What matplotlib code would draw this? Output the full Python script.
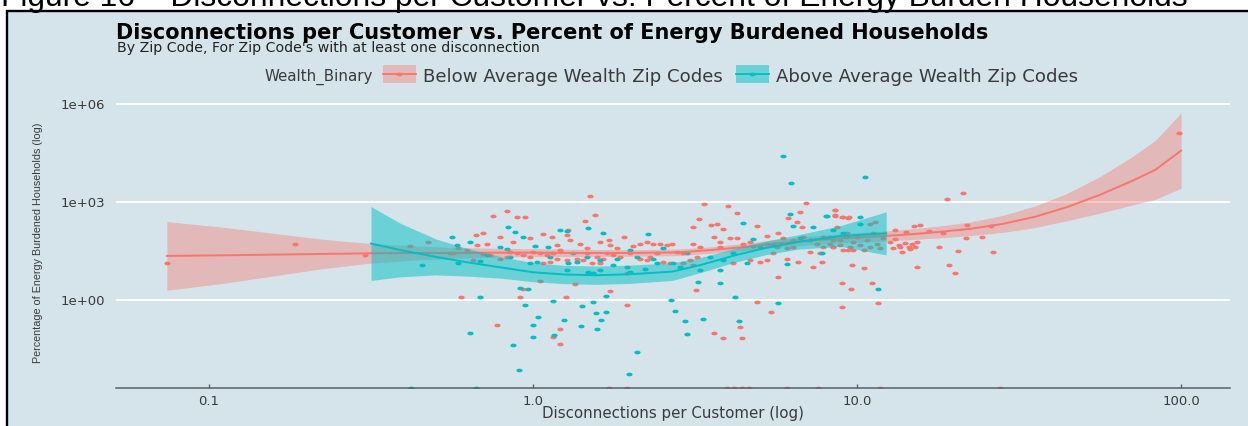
import numpy as np
import matplotlib
matplotlib.use("Agg")
import matplotlib.pyplot as plt
from matplotlib.path import Path
from matplotlib.transforms import Affine2D
from matplotlib.patches import Rectangle
from matplotlib.lines import Line2D
from matplotlib.ticker import NullLocator

W, H, DPI = 1248, 426, 100
BG = "#d5e4eb"
RED = "#F8766D"
CYAN = "#00BFC4"
TXT = "#3a3a3a"

# ---------------- texts ----------------
caption = "Figure 16 \u2013 Disconnections per Customer vs. Percent of Energy Burden Households"
title = "Disconnections per Customer vs. Percent of Energy Burdened Households"
subtitle = "By Zip Code, For Zip Code's with at least one disconnection"
legend_title = "Wealth_Binary"
groups = ["Below Average Wealth Zip Codes", "Above Average Wealth Zip Codes"]
x_label = "Disconnections per Customer (log)"
y_label = "Percentage of Energy Burdened Households (log)"
x_ticks = [0.1, 1.0, 10.0, 100.0]
x_tick_labels = ["0.1", "1.0", "10.0", "100.0"]
y_ticks = [1.0, 1e3, 1e6]
y_tick_labels = ["1e+00", "1e+03", "1e+06"]

# ---------------- data (log10 of values) ----------------
below_log10_x = [
    -1.129, -0.735, -0.519, -0.380, -0.323, -0.256,
    -0.122, -0.079, -0.048, -0.025, 0.176, 0.191, 0.160, -0.176, -0.153, -0.143,
    -0.172, -0.223, -0.110, -0.040, -0.032, 0.083, 0.083, 0.063, 0.101, 0.238,
    0.289, 0.129, 0.528, 0.601, 0.512, 0.495, 0.550, 0.567, 0.587, 0.629,
    0.690, 0.721, 0.757, 0.786, 0.814, 0.824, 0.843, 0.829, 0.932, 0.932,
    0.958, 0.976, 0.757, 0.690, 0.735, 0.639, 0.644, 0.587, 0.560, 0.503,
    0.819, 0.865, 0.891, 0.953, 0.953,
    -0.102, -0.061, -0.009, 0.032, 0.058, 0.073, 0.104, 0.109, 0.114, 0.145,
    0.166, 0.207, 0.233, 0.238, 0.258, 0.281, 0.310, 0.330, 0.351, 0.371,
    0.392, 0.413, 0.428, 0.443, 0.464, 0.022, 0.042, 0.063, 0.083, 0.001,
    -0.030, -0.050, -0.071, -0.081, -0.102, -0.133, -0.153, -0.184, -0.205, -0.230,
    -0.246, 0.196, 0.217, 0.248, 0.269, 0.299, 0.330, 0.361, 0.382, 0.135,
    0.155, 0.181, 0.207, 0.032, 0.052, 0.351, 0.402, 0.423, 0.104, 0.166,
    0.227, 0.073, -0.009, 0.557, 0.577, 0.608, 0.629, 0.649, 0.670, 0.721,
    0.752, 0.783, 0.803, 0.855, 0.886, 0.927, 0.948, 0.973, 0.721, 0.783,
    0.495, 0.515, 0.577, 0.464, 0.485, 0.495, 0.505, 0.618, 0.670, 0.701,
    0.742, 0.773, 0.803, 0.834, 0.876, 0.896, 0.927, 0.968, 0.022, 0.289,
    0.932, 0.932, 0.953, 0.973, 0.984, 1.020, 0.980, 1.047, 1.066, 1.277,
    1.326, 1.117, 1.151, 1.176, 1.194, 1.223, 1.264, 1.338, 1.413, 1.385,
    1.335, 1.254, 1.313, 1.421, 1.186, 1.285, 1.301, 1.995,
    1.102, 1.117, 1.128, 1.138, 1.148, 1.159, 1.169, 1.179, 1.184, 1.133,
    1.112, 1.164,
    0.896, 0.917, 0.937, 0.948, 0.968, 0.979, 0.989, 0.999, 1.009, 1.020,
    1.030, 1.040, 1.050, 1.061, 1.071, 1.081, 0.927, 0.958, 0.989, 1.040,
    1.056,
]
below_log10_y = [
    1.12, 1.70, 1.38, 1.65, 1.78, 1.43,
    2.57, 2.73, 2.55, 2.53, 3.18, 2.60, 2.43, 1.99, 2.04, 1.73,
    1.68, 0.10, -0.76, 0.10, 0.33, -0.90, -1.35, -1.12, 0.08, 0.27,
    -0.15, 0.49, 2.94, 2.87, 2.48, 2.24, 2.29, 2.34, 2.16, 2.65,
    2.28, 1.97, 2.04, 2.50, 2.40, 2.70, 2.96, 2.24, 2.75, 2.58,
    2.53, 2.53, 0.71, -0.07, -0.36, -0.82, -1.17, -1.17, -1.02, 0.31,
    1.17, 1.02, 1.17, 0.53, -0.22,
    1.94, 1.78, 1.89, 2.02, 1.94, 1.68, 1.99, 2.14, 1.83, 1.73,
    1.58, 1.78, 1.83, 1.68, 1.58, 1.94, 1.65, 1.70, 1.78, 1.73,
    1.71, 1.68, 1.71, 1.48, 1.43, 1.43, 1.38, 1.45, 1.53, 1.48,
    1.38, 1.43, 1.48, 1.33, 1.27, 1.38, 1.41, 1.22, 1.53, 1.58,
    1.43, 1.33, 1.27, 1.38, 1.33, 1.43, 1.27, 1.33, 1.43, 1.27,
    1.22, 1.12, 1.12, 1.12, 1.17, 1.22, 1.17, 1.12, 1.22, 1.43,
    1.45, 1.27, 1.33, 1.94, 1.78, 1.89, 1.89, 1.73, 1.78, 1.73,
    1.63, 1.58, 1.63, 1.48, 1.43, 1.63, 1.68, 1.53, 1.22, 1.27,
    1.73, 1.63, 1.63, 1.12, 1.22, 1.07, 1.33, 1.12, 1.22, 1.17,
    1.43, 1.89, 1.83, 1.94, 1.73, 1.63, 1.83, 1.94, 0.59, 0.84,
    2.77, 2.60, 2.53, 2.50, 1.07, 0.97, 0.33, 0.53, -0.08, 3.10,
    3.29, 2.14, 2.09, 2.26, 2.31, 2.12, 2.06, 2.29, 2.26, 1.94,
    1.89, 1.63, 1.50, 1.47, 1.02, 1.07, 0.83, 5.12,
    1.78, 1.86, 1.68, 1.48, 1.75, 1.63, 1.71, 1.63, 1.78, 1.63,
    1.58, 1.55,
    1.94, 1.73, 2.24, 1.83, 2.04, 1.63, 1.78, 1.94, 1.68, 1.53,
    1.83, 1.63, 2.04, 1.73, 1.58, 1.89, 1.63, 1.53, 1.53, 2.34,
    2.40,
]
# zip codes with 0 % (drawn at the lower panel edge, like ggplot's -Inf)
below_zero_log10_x = [0.233, 0.289, 0.598, 0.620, 0.645, 0.667, 0.783, 0.880, 1.071, 1.441]

above_log10_x = [
    0.771, 0.795, -0.251, -0.194, -0.234, -0.076, -0.056, -0.030, 0.006, 0.047,
    0.083, 0.104, 0.171, 0.217, 0.356, -0.343, -0.164, -0.230, -0.009, 0.011,
    0.104, 0.109, 0.135, 0.171, 0.186, 0.207, 0.248, 0.289, 0.299, 0.346,
    0.371, 0.402, 0.433, 0.474, 0.515, 0.510, 0.577, 0.623, 0.649, 0.680,
    0.757, 0.793, 0.803, 0.783, 0.865, 0.906, 0.680, 0.824, -0.164, -0.194,
    -0.061, -0.042, -0.025, -0.040, -0.014, -0.001, -0.001, 0.016, 0.061, 0.065,
    0.096, 0.147, 0.150, 0.186, 0.194, 0.196, 0.210, 0.225, 0.224, 0.297,
    0.320, 0.425, 0.438, 0.469, 0.474, 0.524, 0.637,
    -0.102, -0.081, -0.071, -0.143, 0.299, 0.320, 0.166, 0.124, 0.052, 0.207,
    0.258, 0.382, 0.454, 0.546, 0.587, 0.618, 0.701, 0.742, 0.855, 0.917,
    0.958, 0.577, 0.659,
    1.025, 0.904, 1.009, 0.891, 1.066, 0.927, 1.009,
]
above_log10_y = [
    4.40, 3.59, 1.92, 1.78, 1.68, 2.22, 2.09, 1.94, 1.65, 1.61,
    2.14, 2.12, 2.19, 2.06, 2.02, 1.07, 1.20, 1.14, 1.12, 1.17,
    0.92, 1.12, 1.17, 0.87, 0.84, 0.92, 1.07, 1.02, 0.87, 0.94,
    1.27, 1.58, 1.12, 1.45, 0.92, 0.54, 0.53, 0.10, 2.36, 1.86,
    -0.10, 2.63, 2.26, 1.10, 2.24, 2.57, 1.65, 1.89, 0.08, -1.02,
    -1.36, -2.14, -0.15, 0.36, 0.33, -0.76, -1.12, -0.51, -0.02, -1.07,
    -0.61, -0.80, -0.18, -0.05, -0.39, -0.89, -0.61, -0.36, 0.12, -2.26,
    -1.58, 0.00, -0.33, -0.64, -1.05, -0.57, -0.63,
    1.63, 1.55, 1.33, 1.38, 1.53, 1.33, 1.33, 1.43, 1.33, 1.22,
    1.27, 1.12, 1.02, 1.33, 1.22, 1.43, 1.63, 1.73, 1.83, 1.94,
    2.04, 0.92, 1.12,
    3.77, 2.57, 2.53, 1.45, 0.33, 2.14, 2.34,
]
above_zero_log10_x = [-0.376, -0.177]

# loess fits (log10 x, log10 fitted y, log10 half-width of the confidence band)
below_fit_log10_x = [-1.13, -0.95, -0.80, -0.65, -0.50, -0.35, -0.25, -0.10, 0.00, 0.15,
                     0.30, 0.45, 0.55, 0.65, 0.75, 0.85, 0.95, 1.05, 1.15, 1.25,
                     1.35, 1.45, 1.55, 1.65, 1.75, 1.85, 1.92, 2.00]
below_fit_log10_y = [1.35, 1.37, 1.39, 1.41, 1.43, 1.44, 1.44, 1.45, 1.45, 1.44,
                     1.44, 1.46, 1.53, 1.62, 1.73, 1.82, 1.89, 1.94, 2.00, 2.08,
                     2.18, 2.33, 2.55, 2.85, 3.22, 3.65, 3.98, 4.57]
below_fit_se = [1.05, 0.85, 0.65, 0.45, 0.30, 0.21, 0.17, 0.13, 0.12, 0.11,
                0.10, 0.10, 0.10, 0.11, 0.12, 0.13, 0.14, 0.15, 0.16, 0.18,
                0.21, 0.26, 0.33, 0.42, 0.56, 0.74, 0.90, 1.15]

above_fit_log10_x = [-0.50, -0.41, -0.30, -0.20, -0.10, 0.00, 0.10, 0.20, 0.30, 0.43,
                     0.52, 0.62, 0.72, 0.82, 0.95, 1.09]
above_fit_log10_y = [1.73, 1.53, 1.32, 1.15, 1.00, 0.85, 0.78, 0.76, 0.79, 0.87,
                     1.08, 1.36, 1.60, 1.78, 1.96, 2.04]
above_fit_se = [1.13, 0.82, 0.55, 0.42, 0.33, 0.29, 0.28, 0.28, 0.28, 0.27,
                0.23, 0.21, 0.21, 0.22, 0.32, 0.66]

# ---------------- figure ----------------
plt.rcParams["font.family"] = ["DejaVu Sans"]
fig = plt.figure(figsize=(W / DPI, H / DPI), dpi=DPI, facecolor="white")
renderer = fig.canvas.get_renderer()

# image frame with the ggplot background
fig.add_artist(Rectangle((7 / W, -0.1), 1.2, 1.1 - 11 / H, transform=fig.transFigure,
                         facecolor=BG, edgecolor="black", lw=1.7, zorder=0))

ax = fig.add_axes([116 / W, 1 - 388 / H, 1114 / W, 289 / H])
ax.set_facecolor("none")
ax.set_xscale("log")
ax.set_yscale("log")
ax.set_xlim(10 ** -1.287, 10 ** 2.151)
ax.set_ylim(10 ** -2.69, 10 ** 6.15)
ax.xaxis.set_minor_locator(NullLocator())
ax.yaxis.set_minor_locator(NullLocator())
for s in ["left", "right", "top"]:
    ax.spines[s].set_visible(False)
ax.spines["bottom"].set_color("#55616a")
ax.spines["bottom"].set_linewidth(1.1)
ax.set_axisbelow(True)
ax.yaxis.grid(True, color="white", lw=1.4)

ellipse = Path.unit_circle().transformed(Affine2D().scale(1.7, 1.0))
ms = 4.5

ybot = ax.get_ylim()[0]
bx = 10 ** np.array(below_log10_x)
by = 10 ** np.array(below_log10_y)
axx = 10 ** np.array(above_log10_x)
ayy = 10 ** np.array(above_log10_y)
ax.plot(bx, by, ls="none", marker=ellipse, ms=ms, color=RED, mec="none", zorder=2)
ax.plot(10 ** np.array(below_zero_log10_x), np.full(len(below_zero_log10_x), ybot),
        ls="none", marker=ellipse, ms=ms, color=RED, mec="none", zorder=2)
ax.plot(axx, ayy, ls="none", marker=ellipse, ms=ms, color=CYAN, mec="none", zorder=2)
ax.plot(10 ** np.array(above_zero_log10_x), np.full(len(above_zero_log10_x), ybot),
        ls="none", marker=ellipse, ms=ms, color=CYAN, mec="none", zorder=2)

for fx, fy, se, col, alpha, z in [
    (below_fit_log10_x, below_fit_log10_y, below_fit_se, RED, 0.4, 3),
    (above_fit_log10_x, above_fit_log10_y, above_fit_se, CYAN, 0.5, 4),
]:
    fx = np.array(fx); fy = np.array(fy); se = np.array(se)
    ax.fill_between(10 ** fx, 10 ** (fy - se), 10 ** (fy + se), color=col, alpha=alpha,
                    lw=0, zorder=z)
    ax.plot(10 ** fx, 10 ** fy, color=col, lw=1.4, zorder=z + 0.5)


def measure(s, fs, family="DejaVu Sans", weight="normal", rotation=0):
    t = fig.text(0, 0, s, fontsize=fs, family=family, weight=weight, rotation=rotation)
    bb = t.get_window_extent(renderer)
    t.remove()
    return bb.width, bb.height


def compromise_size(s, target_w, cap_px, family="DejaVu Sans", weight="normal", a=0.7,
                    cap_ratio=0.73):
    w10, _ = measure(s, 10, family, weight)
    fs_w = 10 * target_w / w10
    fs_h = cap_px / cap_ratio * 72 / DPI
    return fs_w ** a * fs_h ** (1 - a)


def put(s, left_px, yc_px, fs, family="DejaVu Sans", weight="normal", color=TXT,
        cap_ratio=0.73):
    base = yc_px + 0.5 * cap_ratio * fs * DPI / 72
    return fig.text(left_px / W, 1 - base / H, s, fontsize=fs, family=family,
                    weight=weight, color=color, ha="left", va="baseline")


# ticks
tick_fs = compromise_size("100.0", 43, 8, a=0.6)
ax.set_xticks(x_ticks, labels=x_tick_labels)
ax.set_yticks(y_ticks, labels=y_tick_labels)
ax.tick_params(axis="x", direction="in", length=3.2, width=1.0, color="#55616a",
               pad=5.0, labelsize=tick_fs, labelcolor=TXT)
ax.tick_params(axis="y", length=0, pad=7.9, labelsize=tick_fs, labelcolor=TXT)

# caption (document text above the image, its top cut by the page crop)
cw, _ = measure(caption, 10, family="Liberation Sans")
cap_fs = 10 * 1191 / cw
fig.text(1 / W, 1 - 6 / H, caption, fontsize=cap_fs, family="Liberation Sans",
         color="black", ha="left", va="baseline")

# title & subtitle
t_fs = compromise_size(title, 1024, 10.5, weight="bold")
put(title, 116, 31, t_fs, weight="bold", color="black")
s_fs = compromise_size(subtitle, 500, 7.0)
put(subtitle, 117, 47, s_fs, color="#222222")

# legend row
lt_fs = compromise_size(legend_title, 124, 8)
lab_fs = compromise_size(groups[0], 353, 9)
w_lt, _ = measure(legend_title, lt_fs)
w_l1, _ = measure(groups[0], lab_fs)
w_l2, _ = measure(groups[1], lab_fs)
total = w_lt + 10 + 33 + 7 + w_l1 + 13 + 33 + 10 + w_l2
x = 672.5 - total / 2
put(legend_title, x, 75, lt_fs)
x += w_lt + 10
for i, (col, wl) in enumerate([(RED, w_l1), (CYAN, w_l2)]):
    fig.add_artist(Rectangle((x / W, 1 - 83 / H), 33 / W, 18 / H, transform=fig.transFigure,
                             facecolor=col, alpha=0.4 if i == 0 else 0.5, edgecolor="none"))
    fig.add_artist(Line2D([x / W, (x + 33) / W], [1 - 74 / H] * 2, transform=fig.transFigure,
                          color=col, lw=1.3))
    fig.add_artist(Line2D([(x + 16.5) / W], [1 - 74 / H], transform=fig.transFigure,
                          color=col, ls="none", marker=ellipse, ms=ms, mec="none"))
    x += 33 + 7
    put(groups[i], x, 75, lab_fs)
    x += wl + 13

# axis titles
xl_fs = compromise_size(x_label, 290, 8.5)
w_xl, _ = measure(x_label, xl_fs)
put(x_label, 673 - w_xl / 2, 412.5, xl_fs)

yl_family = ["Liberation Sans"]
_, h10 = measure(y_label, 10, family=yl_family, rotation=90)
yl_fs = 10 * 240 / h10
fig.text(38 / W, 1 - 243 / H, y_label, fontsize=yl_fs, family=yl_family, rotation=90,
         color=TXT, ha="center", va="center")

fig.savefig("out.png", dpi=DPI, facecolor="white")
